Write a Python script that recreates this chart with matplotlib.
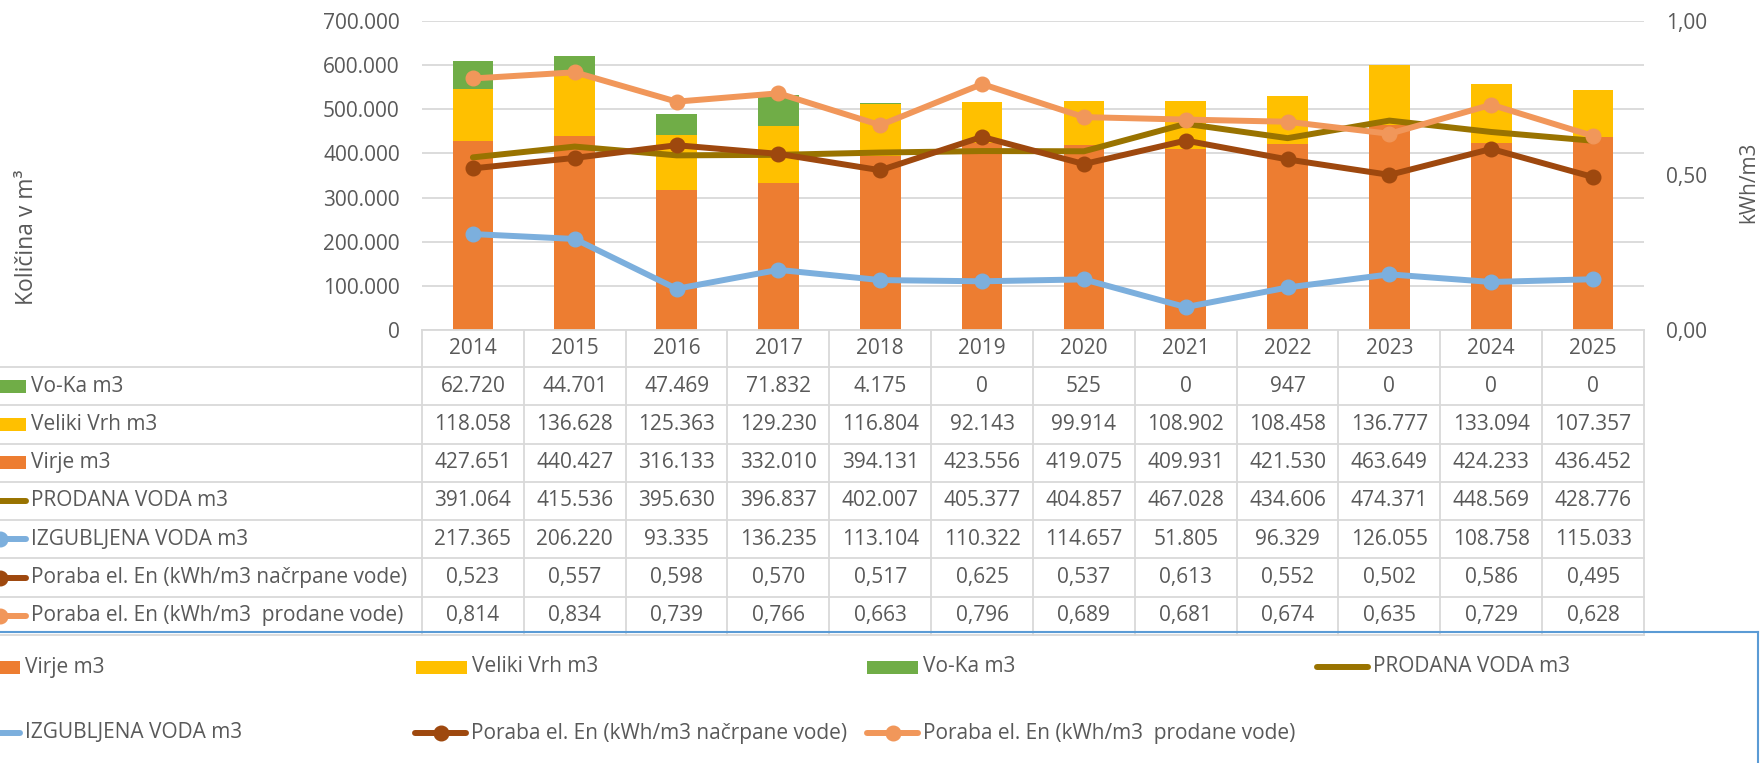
import matplotlib.pyplot as plt
import matplotlib.transforms as mtransforms
from matplotlib.lines import Line2D
from matplotlib.patches import Rectangle
import numpy as np

plt.rcParams['font.family'] = ['Open Sans', 'DejaVu Sans']
plt.rcParams['font.size'] = 15

leta = ['2014', '2015', '2016', '2017', '2018', '2019', '2020', '2021', '2022', '2023', '2024', '2025']
voka = [62720, 44701, 47469, 71832, 4175, 0, 525, 0, 947, 0, 0, 0]
veliki_vrh = [118058, 136628, 125363, 129230, 116804, 92143, 99914, 108902, 108458, 136777, 133094, 107357]
virje = [427651, 440427, 316133, 332010, 394131, 423556, 419075, 409931, 421530, 463649, 424233, 436452]
prodana = [391064, 415536, 395630, 396837, 402007, 405377, 404857, 467028, 434606, 474371, 448569, 428776]
izgubljena = [217365, 206220, 93335, 136235, 113104, 110322, 114657, 51805, 96329, 126055, 108758, 115033]
poraba_crpane = [0.523, 0.557, 0.598, 0.570, 0.517, 0.625, 0.537, 0.613, 0.552, 0.502, 0.586, 0.495]
poraba_prodane = [0.814, 0.834, 0.739, 0.766, 0.663, 0.796, 0.689, 0.681, 0.674, 0.635, 0.729, 0.628]

c_virje = '#ED7D31'
c_vrh = '#FFC000'
c_voka = '#70AD47'
c_prodana = '#997300'
c_izgub = '#7CAFDD'
c_por1 = '#9E480E'
c_por2 = '#F1975A'
siva = '#595959'
mreza = '#D9D9D9'

W, H = 1762, 763


def fx(px):
    return px / W


def fy(py):
    return 1 - py / H


def tisoc(v):
    return f'{v:,}'.replace(',', '.')


def dec(v):
    return f'{v:.3f}'.replace('.', ',')


fig = plt.figure(figsize=(W / 100, H / 100), dpi=100)
ax = fig.add_axes([fx(422), fy(330), fx(1644) - fx(422), fy(21) - fy(330)])
x = np.arange(len(leta))
lw = 4.3
ms = 10.5

ax.bar(x, virje, 0.4, color=c_virje, zorder=2)
ax.bar(x, veliki_vrh, 0.4, bottom=virje, color=c_vrh, zorder=2)
ax.bar(x, voka, 0.4, bottom=np.array(virje) + np.array(veliki_vrh), color=c_voka, zorder=2)
ax.plot(x, prodana, color=c_prodana, lw=lw, solid_capstyle='round', zorder=3)
ax.plot(x, izgubljena, color=c_izgub, lw=lw, marker='o', ms=ms, zorder=3)

ax.set_xlim(-0.5, 11.5)
ax.set_ylim(0, 700000)
ax.set_yticks(range(0, 700001, 100000))
ax.set_yticklabels([tisoc(v) for v in range(0, 700001, 100000)])
ax.set_xticks([])
ax.yaxis.grid(True, color=mreza, lw=1.3)
ax.set_axisbelow(True)
ax.tick_params(axis='y', length=0, pad=16, labelcolor=siva)
for s in ax.spines.values():
    s.set_visible(False)

ax2 = ax.twinx()
ax2.plot(x, poraba_crpane, color=c_por1, lw=lw, marker='o', ms=ms, zorder=3)
ax2.plot(x, poraba_prodane, color=c_por2, lw=lw, marker='o', ms=ms, zorder=3)
ax2.set_ylim(0, 1)
ax2.set_yticks([0, 0.5, 1])
ax2.set_yticklabels(['0,00', '0,50', '1,00'])
ax2.tick_params(axis='y', length=0, pad=16, labelcolor=siva)
for s in ax2.spines.values():
    s.set_visible(False)

fig.text(fx(27), fy(237), 'Količina v m³', rotation=90, ha='center', va='center', color=siva, fontsize=16.5)
fig.text(fx(1749), fy(182), 'kWh/m3', rotation=90, ha='center', va='center', color=siva)

# tabela s podatki
trans = mtransforms.blended_transform_factory(ax.transData, fig.transFigure)
vrh_tabele = 330
glava = 367
visina = (635 - glava) / 7
vrstice = [
    ('Vo-Ka m3', [tisoc(v) for v in voka], 'bar', c_voka),
    ('Veliki Vrh m3', [tisoc(v) for v in veliki_vrh], 'bar', c_vrh),
    ('Virje m3', [tisoc(v) for v in virje], 'bar', c_virje),
    ('PRODANA VODA m3', [tisoc(v) for v in prodana], 'line', c_prodana),
    ('IZGUBLJENA VODA m3', [tisoc(v) for v in izgubljena], 'marker', c_izgub),
    ('Poraba el. En (kWh/m3 načrpane vode)', [dec(v) for v in poraba_crpane], 'marker', c_por1),
    ('Poraba el. En (kWh/m3  prodane vode)', [dec(v) for v in poraba_prodane], 'marker', c_por2),
]

for i, leto in enumerate(leta):
    fig.text(i, fy((vrh_tabele + glava) / 2), leto, transform=trans, ha='center', va='center', color=siva)
for i in range(len(leta) + 1):
    fig.add_artist(Line2D([i - 0.5, i - 0.5], [fy(vrh_tabele), fy(635)], transform=trans, color=mreza, lw=1.3))
fig.add_artist(Line2D([fx(422), fx(1644)], [fy(vrh_tabele)] * 2, color=mreza, lw=1.3))
for r in range(8):
    y = glava + r * visina
    fig.add_artist(Line2D([0, fx(1644)], [fy(y)] * 2, color=mreza, lw=1.3))


def kljuc(x0, x1, yc, tip, barva):
    if tip == 'bar':
        fig.add_artist(Rectangle((fx(x0), fy(yc + 6.5)), fx(x1) - fx(x0), 13 / H, color=barva, lw=0))
    else:
        fig.add_artist(Line2D([fx(x0), fx(x1)], [fy(yc)] * 2, color=barva, lw=lw, solid_capstyle='round'))
        if tip == 'marker':
            fig.add_artist(Line2D([fx((x0 + x1) / 2)], [fy(yc)], color=barva, marker='o', ms=ms, lw=0))


for r, (ime, vrednosti, tip, barva) in enumerate(vrstice):
    yc = glava + (r + 0.5) * visina
    kljuc(-26, 26, yc, tip, barva)
    fig.text(fx(31), fy(yc), ime, ha='left', va='center', color=siva)
    for i, v in enumerate(vrednosti):
        fig.text(i, fy(yc), v, transform=trans, ha='center', va='center', color=siva)

# legenda
legenda = [
    ('Virje m3', 'bar', c_virje, -31, 667),
    ('Veliki Vrh m3', 'bar', c_vrh, 416, 667),
    ('Vo-Ka m3', 'bar', c_voka, 867, 667),
    ('PRODANA VODA m3', 'line', c_prodana, 1317, 667),
    ('IZGUBLJENA VODA m3', 'line', c_izgub, -31, 733),
    ('Poraba el. En (kWh/m3 načrpane vode)', 'marker', c_por1, 415, 733),
    ('Poraba el. En (kWh/m3  prodane vode)', 'marker', c_por2, 867, 733),
]
for ime, tip, barva, x0, yc in legenda:
    kljuc(x0, x0 + 51, yc, tip, barva)
    fig.text(fx(x0 + 56), fy(yc), ime, ha='left', va='center', color=siva)

modra = '#5B9BD5'
fig.add_artist(Line2D([0, fx(1758)], [fy(632)] * 2, color=modra, lw=1.5))
fig.add_artist(Line2D([fx(1758), fx(1758)], [fy(632), 0], color=modra, lw=1.5))

fig.savefig('out.png', dpi=100)
